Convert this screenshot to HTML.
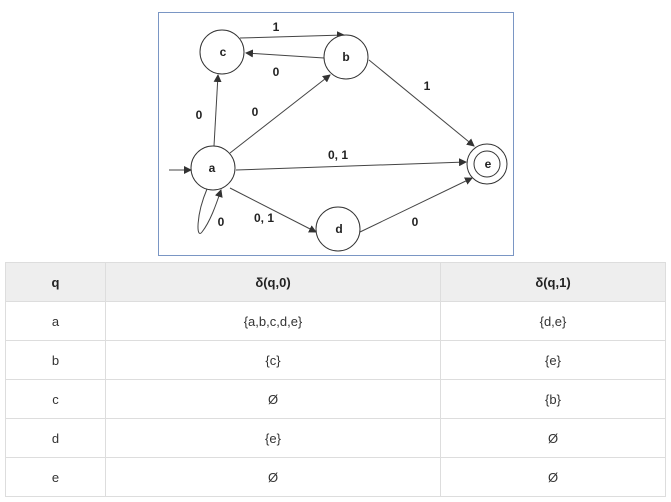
<!DOCTYPE html>
<html><head><style>
body{margin:0;width:671px;height:502px;background:#fff;font-family:"Liberation Sans",Arial,sans-serif;position:relative;overflow:hidden}
svg{position:absolute;left:0;top:0}
table{position:absolute;left:5px;top:262px;width:661px;border-collapse:collapse;font-size:13px;color:#333}
td,th{border:1px solid #ddd;text-align:center;height:38px;padding:0}
th{background:#eee;font-weight:bold;color:#222}
</style></head><body>
<svg width="671" height="262" font-family="Liberation Sans, Arial, sans-serif" font-weight="bold" font-size="12">
<defs><marker id="ar" markerWidth="8" markerHeight="8" refX="7" refY="4" orient="auto" markerUnits="userSpaceOnUse"><path d="M0,0L8,4L0,8z" fill="#333"/></marker></defs>
<rect x="158.5" y="12.5" width="355" height="243" fill="#fff" stroke="#7a96c4"/>
<g stroke="#444" stroke-width="1" fill="none" marker-end="url(#ar)">
<line x1="240" y1="38" x2="344" y2="35"/>
<line x1="324" y1="58" x2="246" y2="53"/>
<line x1="214" y1="146" x2="218" y2="75"/>
<line x1="230" y1="153" x2="330" y2="75"/>
<line x1="369" y1="60" x2="474" y2="146"/>
<line x1="236" y1="170" x2="466" y2="162"/>
<line x1="230" y1="188" x2="316" y2="232"/>
<line x1="360" y1="232" x2="472" y2="178"/>
<line x1="169" y1="170" x2="191" y2="170"/>
<path d="M207,189 C196,215 196,240 202,232 C210,222 216,205 221,190"/>
</g>
<g fill="#fff" stroke="#333">
<circle cx="222" cy="52" r="22"/>
<circle cx="346" cy="57" r="22"/>
<circle cx="213" cy="168" r="22"/>
<circle cx="338" cy="229" r="22"/>
<circle cx="487" cy="164" r="20"/>
<circle cx="487" cy="164" r="13"/>
</g>
<g fill="#222" text-anchor="middle">
<text x="223" y="56">c</text><text x="346" y="61">b</text><text x="212" y="172">a</text><text x="339" y="233">d</text><text x="488" y="168">e</text>
<text x="276" y="31">1</text><text x="276" y="76">0</text><text x="427" y="90">1</text>
<text x="199" y="119">0</text><text x="255" y="116">0</text><text x="338" y="159">0, 1</text>
<text x="221" y="226">0</text><text x="264" y="222">0, 1</text><text x="415" y="226">0</text>
</g>
</svg>
<table>
<tr><th style="width:99px">q</th><th style="width:334px">δ(q,0)</th><th>δ(q,1)</th></tr>
<tr><td>a</td><td>{a,b,c,d,e}</td><td>{d,e}</td></tr>
<tr><td>b</td><td>{c}</td><td>{e}</td></tr>
<tr><td>c</td><td>Ø</td><td>{b}</td></tr>
<tr><td>d</td><td>{e}</td><td>Ø</td></tr>
<tr><td>e</td><td>Ø</td><td>Ø</td></tr>
</table>
</body></html>
